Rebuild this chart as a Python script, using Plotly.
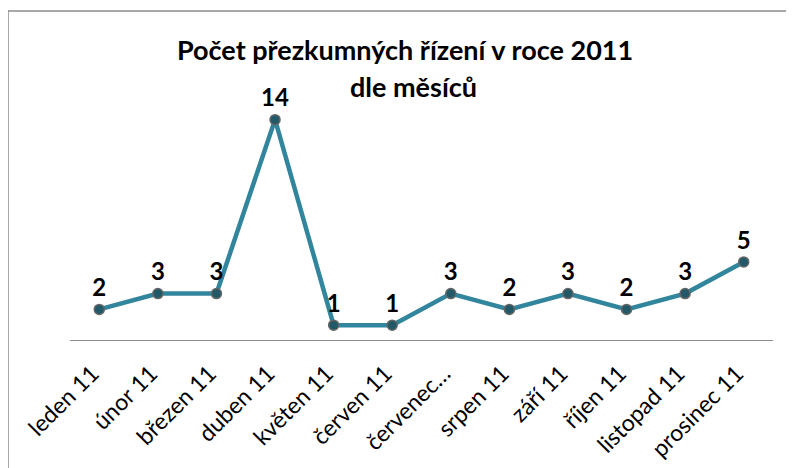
import plotly.graph_objects as go

months = ["leden 11", "únor 11", "březen 11", "duben 11", "květen 11", "červen 11",
          "červenec…", "srpen 11", "září 11", "říjen 11", "listopad 11", "prosinec 11"]
counts = [2, 3, 3, 14, 1, 1, 3, 2, 3, 2, 3, 5]
title_lines = ["Počet přezkumných řízení v roce 2011", "dle měsíců"]

FONT = "Lato, Calibri, 'Open Sans', sans-serif"

# page body has an 8px default margin; work in reference pixels and shift
OFF = 8
W, H = 794 - OFF, 468 - OFF
L, R, T, B = 70 - OFF, 21, 88 - OFF, 127
pw, ph = W - L - R, H - T - B

def px_x(p):
    return (p - OFF - L) / pw

def px_y(p):
    return (H - B - (p - OFF)) / ph

fig = go.Figure()
fig.add_trace(go.Scatter(
    x=months, y=counts, mode="lines+markers+text",
    line=dict(color="#31859C", width=4.5),
    marker=dict(size=10, color="#215968", line=dict(color="#666666", width=1.5)),
    text=[str(v) for v in counts], textposition="top center",
    textfont=dict(family=FONT, size=24, color="#000000", weight="bold"),
    cliponaxis=False, showlegend=False,
))

fig.add_shape(type="rect", xref="paper", yref="paper",
              x0=px_x(8), x1=px_x(820), y0=px_y(500), y1=px_y(11),
              line=dict(color="#8C8C8C", width=1.5), fillcolor="rgba(0,0,0,0)", layer="below")

fig.add_annotation(text=f"<b>{title_lines[0]}</b>", xref="paper", yref="paper",
                   x=px_x(405), y=px_y(50), showarrow=False,
                   font=dict(family=FONT, size=27, color="#000000"), yanchor="middle")
fig.add_annotation(text=f"<b>{title_lines[1]}</b>", xref="paper", yref="paper",
                   x=px_x(413), y=px_y(86), showarrow=False,
                   font=dict(family=FONT, size=27, color="#000000"), yanchor="middle")

fig.update_layout(
    width=W, height=H, margin=dict(l=L, r=R, t=T, b=B),
    paper_bgcolor="white", plot_bgcolor="white",
    font=dict(family=FONT),
    xaxis=dict(type="category", range=[-0.5, len(months) - 0.5], tickangle=-45,
               showgrid=False, zeroline=False,
               showline=False, ticks="outside", ticklen=9, tickcolor="rgba(0,0,0,0)",
               ticklabelshift=-7, automargin=False,
               tickfont=dict(family=FONT, size=23, color="#000000")),
    yaxis=dict(range=[0, 16], visible=False, showgrid=False, zeroline=False, automargin=False),
)
fig.add_shape(type="line", xref="paper", yref="y", x0=0, x1=1, y0=0, y1=0,
              line=dict(color="#8C8C8C", width=2), layer="below")

fig.write_html("out.html")
